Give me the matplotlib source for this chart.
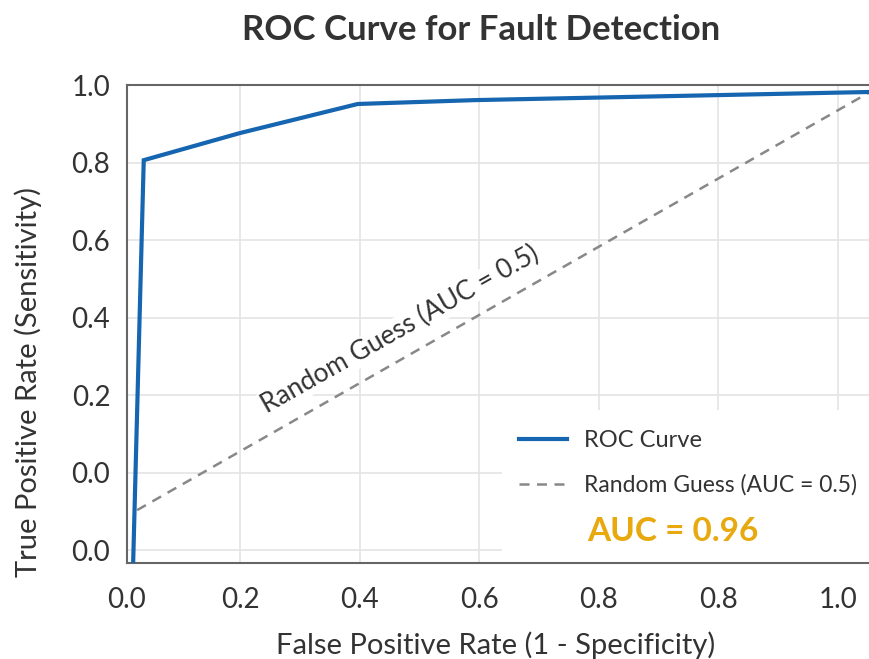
import numpy as np
import matplotlib.pyplot as plt
from matplotlib.patches import Rectangle

plt.rcParams['font.family'] = ['Lato', 'DejaVu Sans']

# ROC curve points
fpr = [0.021, 0.039, 0.2, 0.397, 0.593, 1.254]
tpr = [-0.25, 0.806, 0.876, 0.951, 0.961, 0.982]

# random guess diagonal
rand_x = [0.028, 1.254]
rand_y = [-0.097, 0.982]

xtick_pos = [0.011, 0.2, 0.4, 0.6, 0.8, 1.0, 1.2]
xtick_labels = ["0.0", "0.2", "0.4", "0.6", "0.8", "0.8", "1.0"]
ytick_pos = [-0.2, 0.0, 0.2, 0.4, 0.6, 0.8, 1.0]
ytick_labels = ["0.0", "0.0", "0.2", "0.4", "0.6", "0.8", "1.0"]

auc_text = "AUC = 0.96"
text_col = "#333333"

fig = plt.figure(figsize=(8.7, 6.59), dpi=100)
ax = fig.add_axes([127 / 870, 1 - 563 / 659, 743 / 870, (563 - 85) / 659])

ax.plot(fpr, tpr, color="#1565b0", lw=3, solid_joinstyle="miter", zorder=3,
        label="ROC Curve")
ax.plot(rand_x, rand_y, color="#888888", lw=1.8, dashes=(4, 3), zorder=2.5,
        label="Random Guess (AUC = 0.5)")

ax.set_xlim(0.011, 1.254)
ax.set_ylim(-0.2335, 1.0)
ax.set_xticks(xtick_pos)
ax.set_xticklabels(xtick_labels)
ax.set_yticks(ytick_pos)
ax.set_yticklabels(ytick_labels)
ax.tick_params(length=0, labelsize=20, labelcolor=text_col, pad=12)
ax.tick_params(axis="x", pad=17)
ax.grid(True, color="#e4e4e4", lw=1.2)
ax.set_axisbelow(True)
for s in ["left", "bottom", "top"]:
    ax.spines[s].set_color("#666666")
    ax.spines[s].set_linewidth(1.5)
ax.spines["right"].set_visible(False)

# white block behind the legend
ax.add_patch(Rectangle((0.505, 0), 0.5, 0.32, transform=ax.transAxes,
                       facecolor="white", edgecolor="none", zorder=1))

ax.text(0.468, 0.368, "Random Guess (AUC = 0.5)", rotation=29.5,
        ha="center", va="center", fontsize=19, color=text_col, zorder=2,
        bbox=dict(facecolor="white", edgecolor="none", pad=1))

leg = ax.legend(loc="upper left", bbox_to_anchor=(0.527, 0.2775), frameon=False,
                borderpad=0, borderaxespad=0, handlelength=2.1,
                handletextpad=0.75, labelspacing=1.0, fontsize=16.5)
leg.get_texts()[0].set_fontsize(17)
for t in leg.get_texts():
    t.set_color(text_col)

ax.text(0.620, 0.066, auc_text, transform=ax.transAxes, ha="left",
        va="center", fontsize=24, fontweight="bold", color="#e8a90e")

fig.text(481 / 870, 1 - 30 / 659, "ROC Curve for Fault Detection",
         ha="center", va="center", fontsize=25, fontweight="bold",
         color=text_col)
fig.text(496 / 870, 1 - 645 / 659, "False Positive Rate (1 - Specificity)",
         ha="center", va="center", fontsize=21, color=text_col)
fig.text(28 / 870, 1 - 382 / 659, "True Positive Rate (Sensitivity)",
         ha="center", va="center", rotation=90, fontsize=21, color=text_col)

fig.savefig("out.png", dpi=100)
